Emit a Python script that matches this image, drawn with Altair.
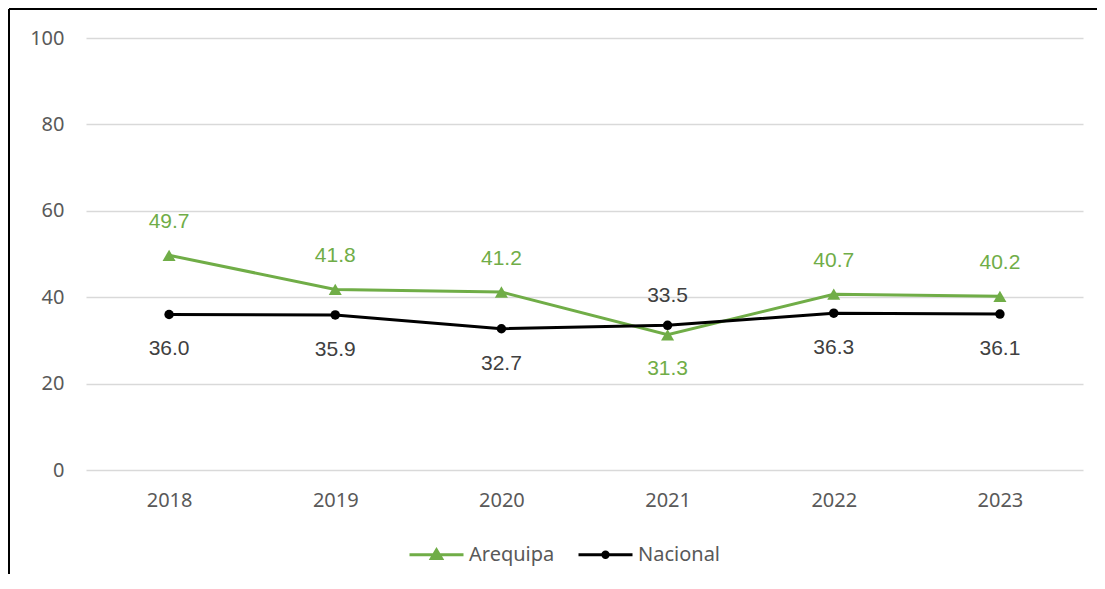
import altair as alt
import pandas as pd

years = ["2018", "2019", "2020", "2021", "2022", "2023"]
arequipa = [49.7, 41.8, 41.2, 31.3, 40.7, 40.2]
nacional = [36.0, 35.9, 32.7, 33.5, 36.3, 36.1]
series = ["Arequipa", "Nacional"]
colors = ["#70AD47", "#000000"]
y_ticks = [0, 20, 40, 60, 80, 100]

rows = []
for i, yr in enumerate(years):
    rows.append({"year": yr, "series": "Arequipa", "value": arequipa[i], "other": nacional[i]})
    rows.append({"year": yr, "series": "Nacional", "value": nacional[i], "other": arequipa[i]})
df = pd.DataFrame(rows)

AXIS_FONT = "Noto Sans"
LABEL_FONT = "Liberation Sans"

x_enc = alt.X(
    "year:O",
    scale=alt.Scale(type="point", padding=0.5),
    axis=alt.Axis(title=None, labelAngle=0, domain=False, ticks=False, grid=False,
                  labelPadding=20, labelFontSize=20, labelColor="#595959", labelFont=AXIS_FONT),
)
y_enc = alt.Y(
    "value:Q",
    scale=alt.Scale(domain=[0, 100]),
    axis=alt.Axis(title=None, values=y_ticks, domain=False, ticks=False, gridColor="#D9D9D9",
                  gridWidth=1.5, labelPadding=22, labelFontSize=20, labelColor="#595959",
                  labelFont=AXIS_FONT),
)

base = alt.Chart(df)

# colour scale for the lines (data-driven domain, no legend of its own)
lines = base.mark_line(strokeWidth=3).encode(
    x=x_enc, y=y_enc,
    color=alt.Color("series:N", scale=alt.Scale(range=colors), legend=None),
    order=alt.Order("year:O"))

pts_a = base.transform_filter("datum.series == 'Arequipa'").mark_point(
    filled=True, shape="triangle-up", size=170, opacity=1, color="#70AD47").encode(x=x_enc, y=y_enc)
pts_n = base.transform_filter("datum.series == 'Nacional'").mark_point(
    filled=True, shape="circle", size=90, opacity=1, color="#000000").encode(x=x_enc, y=y_enc)

def labels(flt, dy, col):
    return base.transform_filter(flt).mark_text(
        dy=dy, fontSize=21, font=LABEL_FONT, color=col, baseline="middle", align="center"
    ).encode(x=x_enc, y=y_enc, text=alt.Text("value:Q", format=".1f"))

lab_a_up = labels("datum.series == 'Arequipa' && datum.value >= datum.other", -33, "#70AD47")
lab_a_dn = labels("datum.series == 'Arequipa' && datum.value < datum.other", 34, "#70AD47")
lab_n_dn = labels("datum.series == 'Nacional' && datum.value < datum.other", 35, "#404040")
lab_n_up = labels("datum.series == 'Nacional' && datum.value >= datum.other", -29, "#404040")

tri_path = "M-1,0H1M-0.19,0.14L0,-0.18L0.19,0.14Z"
circ_path = "M-1,0H1M-0.1,0A0.1,0.1 0 1,0 0.1,0A0.1,0.1 0 1,0 -0.1,0Z"

leg = alt.Legend(title=None, orient="none", legendX=322, legendY=488, direction="horizontal",
                 padding=0, symbolSize=2916, symbolStrokeWidth=3, symbolOpacity=1,
                 labelFontSize=20, labelColor="#595959", labelFont=AXIS_FONT,
                 columnPadding=17, labelOffset=4)
legend_layer = base.transform_filter("false").mark_point(filled=True, opacity=1).encode(
    fill=alt.Fill("series:N", scale=alt.Scale(domain=series, range=colors), legend=leg),
    stroke=alt.Stroke("series:N", scale=alt.Scale(domain=series, range=colors), legend=leg),
    shape=alt.Shape("series:N", scale=alt.Scale(domain=series, range=[tri_path, circ_path]), legend=leg),
)

one = alt.Data(values=[{"k": 1}])
frame_top = alt.Chart(one).mark_rule(color="black", strokeWidth=2).encode(
    x=alt.value(-77), x2=alt.value(1030), y=alt.value(-29))
frame_left = alt.Chart(one).mark_rule(color="black", strokeWidth=2).encode(
    x=alt.value(-77), y=alt.value(-29), y2=alt.value(560))

chart = alt.layer(
    lines, pts_a, pts_n, lab_a_up, lab_a_dn, lab_n_dn, lab_n_up, legend_layer, frame_top, frame_left
).properties(
    width=997, height=432,
    padding={"left": 78, "top": 30, "right": 14, "bottom": 104},
    autosize=alt.AutoSizeParams(type="none"),
    background="white",
).configure_view(stroke=None)

chart.save("out.html", embed_options={"renderer": "svg", "actions": False})
